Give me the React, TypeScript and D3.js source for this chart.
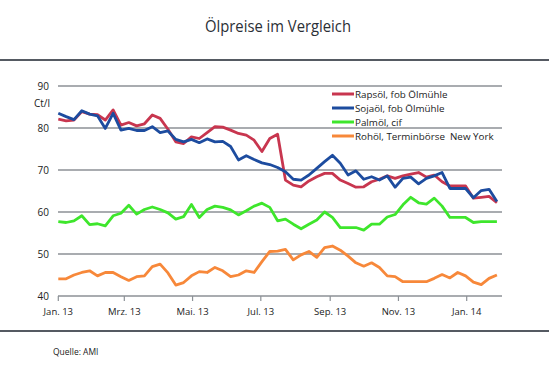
import React from "react";
import * as d3 from "d3";

const startDate = new Date(2013, 0, 1);
const weeks = 57;

const rapsoel = [
  82.1, 81.7, 81.9, 83.9, 83.3, 83.2, 81.9, 84.3, 80.7, 81.3, 80.5, 81.0, 83.1, 82.3, 79.7,
  76.7, 76.3, 77.9, 77.5, 78.9, 80.3, 80.2, 79.5, 78.7, 78.3, 77.1, 74.4, 77.5, 78.5,
  67.6, 66.4, 66.0, 67.4, 68.4, 69.2, 69.2, 67.6, 66.8, 65.9, 66.0, 67.2, 67.8, 68.6,
  68.0, 68.6, 69.0, 69.4, 68.3, 68.8, 67.2, 66.2, 66.2, 66.2, 63.3, 63.5, 63.7, 62.2,
];
const sojaoel = [
  83.5, 82.7, 82.0, 84.1, 83.3, 82.9, 79.9, 83.5, 79.5, 79.9, 79.4, 79.4, 80.3, 78.9, 79.3,
  77.3, 76.7, 77.3, 76.5, 77.4, 76.7, 76.8, 75.6, 72.4, 73.4, 72.5, 71.7, 71.3, 70.6,
  69.6, 67.8, 67.6, 68.8, 70.4, 72.0, 73.5, 71.6, 68.8, 69.8, 67.8, 68.4, 67.6, 68.6,
  65.9, 68.0, 68.3, 66.7, 68.0, 68.6, 69.4, 65.6, 65.6, 65.6, 63.4, 65.1, 65.4, 62.5,
];
const palmoel = [
  57.7, 57.5, 57.9, 59.1, 57.0, 57.2, 56.7, 59.1, 59.7, 61.6, 59.5, 60.6, 61.2, 60.6, 59.8,
  58.3, 58.9, 61.8, 58.7, 60.6, 61.4, 61.1, 60.5, 59.3, 60.3, 61.4, 62.1, 61.1, 57.9,
  58.3, 57.1, 56.0, 57.1, 58.1, 60.0, 58.7, 56.3, 56.3, 56.3, 55.7, 57.1, 57.1, 58.8,
  59.4, 61.7, 63.5, 62.2, 61.9, 63.3, 61.4, 58.7, 58.7, 58.7, 57.5, 57.7, 57.7, 57.7,
];
const rohoel = [
  44.1, 44.1, 45.0, 45.6, 46.0, 44.8, 45.6, 45.6, 44.6, 43.7, 44.6, 44.8, 47.0, 47.6, 45.5,
  42.6, 43.2, 44.8, 45.8, 45.6, 46.8, 46.0, 44.6, 45.0, 46.0, 45.6, 48.2, 50.6, 50.7,
  51.1, 48.6, 49.8, 50.6, 49.2, 51.5, 51.9, 50.9, 49.5, 47.9, 47.1, 47.9, 46.8, 44.8,
  44.6, 43.4, 43.4, 43.4, 43.4, 44.2, 45.1, 44.3, 45.6, 44.8, 43.3, 42.7, 44.2, 45.0,
];

const seriesNames = [
  "Rapsöl, fob Ölmühle",
  "Sojaöl, fob Ölmühle",
  "Palmöl, cif",
  "Rohöl, Terminbörse  New York",
];
const seriesColors = ["#c8364f", "#1d4c9f", "#3ee62c", "#f7883a"];
const seriesData = [rapsoel, sojaoel, palmoel, rohoel];

const yTicks = [40, 50, 60, 70, 80, 90];
const xTickLabels = ["Jan. 13", "Mrz. 13", "Mai. 13", "Jul. 13", "Sep. 13", "Nov. 13", "Jan. 14"];
const xTickDates = [
  new Date(2013, 0, 1), new Date(2013, 2, 1), new Date(2013, 4, 1), new Date(2013, 6, 1),
  new Date(2013, 8, 1), new Date(2013, 10, 1), new Date(2014, 0, 1),
];

const W = 549;
const H = 375;
const font = "'Open Sans', sans-serif";

export default function App() {
  const dates = d3.range(weeks).map((i) => d3.timeDay.offset(startDate, i * 7));
  const x = d3.scaleTime().domain([new Date(2013, 0, 1), new Date(2014, 0, 1)]).range([58.3, 466.7]);
  const y = d3.scaleLinear().domain([40, 90]).range([296, 86]);
  const line = d3
    .line<number>()
    .x((_, i) => x(dates[i]))
    .y((d) => y(d));

  return (
    <svg width={W} height={H} style={{ position: "absolute", left: 0, top: 0, background: "#fff" }} fontFamily={font}>
      <text x={278} y={32} textAnchor="middle" fontSize={16} fill="#2b2f36" textLength={146} lengthAdjust="spacingAndGlyphs">
        Ölpreise im Vergleich
      </text>
      <line x1={0} x2={W} y1={60} y2={60} stroke="#555a62" strokeWidth={2} />
      {yTicks.map((t) => (
        <g key={t}>
          <line x1={58} x2={502} y1={y(t)} y2={y(t)} stroke="#8c9196" strokeWidth={1.5} />
          <text x={49} y={y(t) + 3.5} textAnchor="end" fontSize={10} fill="#222">
            {t}
          </text>
        </g>
      ))}
      <text x={50} y={107} textAnchor="end" fontSize={10} fill="#222">Ct/l</text>
      {xTickDates.map((d, i) => (
        <g key={i}>
          <line x1={x(d)} x2={x(d)} y1={296} y2={301} stroke="#8c9196" strokeWidth={1.2} />
          <text x={x(d)} y={315} textAnchor="middle" fontSize={9.5} fill="#222">
            {xTickLabels[i]}
          </text>
        </g>
      ))}
      {seriesData.map((s, k) => (
        <path key={k} d={line(s) || ""} fill="none" stroke={seriesColors[k]} strokeWidth={2.8} strokeLinejoin="round" />
      ))}
      {seriesNames.map((n, k) => (
        <g key={n}>
          <line x1={332} x2={354} y1={94 + k * 14} y2={94 + k * 14} stroke={seriesColors[k]} strokeWidth={3} />
          <text x={355} y={94 + k * 14 + 3.5} fontSize={9.8} fill="#222" xmlSpace="preserve">
            {n}
          </text>
        </g>
      ))}
      <line x1={0} x2={W} y1={331} y2={331} stroke="#555a62" strokeWidth={2} />
      <text x={53} y={355} fontSize={8.5} fill="#222">Quelle: AMI</text>
    </svg>
  );
}
